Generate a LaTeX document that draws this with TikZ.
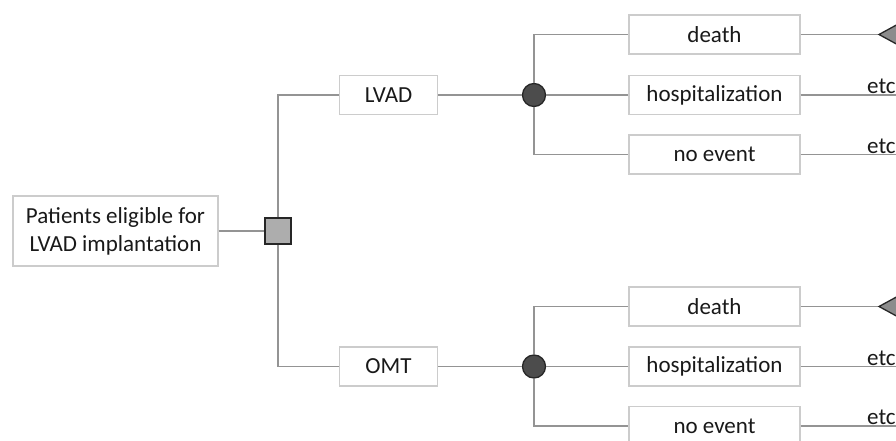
\documentclass[tikz,border=0pt]{standalone}
\usepackage{fontspec}
\setmainfont{Carlito}
\begin{document}
\begin{tikzpicture}[x=1pt,y=-1pt,
  every node/.style={font=\fontsize{23}{28}\selectfont, text=black!90},
  box/.style={draw=black!20, line width=1.3pt, fill=white, inner sep=0pt, align=center},
  optbox/.style={box, minimum width=98pt, minimum height=39pt},
  evbox/.style={box, minimum width=171pt, minimum height=39pt},
  rootbox/.style={box, minimum width=205pt, minimum height=70pt},
  wire/.style={draw=black!42, line width=1.5pt},
  decision/.style={draw=black!85, line width=1.5pt, fill=black!32, minimum size=26pt, inner sep=0pt},
  chance/.style={circle, draw=black!85, line width=1.3pt, fill=black!70, minimum size=23pt, inner sep=0pt},
  terminal/.style={draw=black!85, line width=1.3pt, fill=black!45},
  etclabel/.style={anchor=south west, inner sep=1pt}]
\useasboundingbox (0,0) rectangle (896,441);

% root and decision node
\node[rootbox] (root) at (115.5,231) {Patients eligible for\\LVAD implantation};
\node[decision] (dec) at (278,231) {};

% strategies
\node[optbox] (lvad) at (388.5,95) {LVAD};
\node[optbox] (omt) at (388.5,366.5) {OMT};

% chance nodes
\node[chance] (c1) at (534,95) {};
\node[chance] (c2) at (534,366.5) {};

% outcomes after LVAD
\node[evbox] (d1) at (714.5,34.5) {death};
\node[evbox] (h1) at (714.5,95) {hospitalization};
\node[evbox] (n1) at (714.5,154.5) {no event};

% outcomes after OMT
\node[evbox] (d2) at (714.5,306.5) {death};
\node[evbox] (h2) at (714.5,366.5) {hospitalization};
\node[evbox] (n2) at (714.5,426) {no event};

% terminal tips and open ends
\coordinate (t1) at (879,34.5);
\coordinate (t2) at (879,306.5);
\coordinate (eh1) at (896,95);
\coordinate (en1) at (896,154.5);
\coordinate (eh2) at (896,366.5);
\coordinate (en2) at (896,426);

% connectors
\draw[wire] (root.east) -- (dec.west);
\draw[wire] (dec.north) |- (lvad.west);
\draw[wire] (dec.south) |- (omt.west);
\draw[wire] (lvad.east) -- (c1.west);
\draw[wire] (omt.east) -- (c2.west);
\draw[wire] (c1.north) |- (d1.west);
\draw[wire] (c1.east) -- (h1.west);
\draw[wire] (c1.south) |- (n1.west);
\draw[wire] (c2.north) |- (d2.west);
\draw[wire] (c2.east) -- (h2.west);
\draw[wire] (c2.south) |- (n2.west);
\draw[wire] (d1.east) -- (t1);
\draw[wire] (d2.east) -- (t2);
\draw[wire] (h1.east) -- (eh1);
\draw[wire] (n1.east) -- (en1);
\draw[wire] (h2.east) -- (eh2);
\draw[wire] (n2.east) -- (en2);

% terminal triangles
\draw[terminal] (t1) -- ++(22,-12) -- ++(0,24) -- cycle;
\draw[terminal] (t2) -- ++(22,-12) -- ++(0,24) -- cycle;

% continuation labels
\node[etclabel] at (866,95) {etc};
\node[etclabel] at (866,154.5) {etc};
\node[etclabel] at (866,366.5) {etc};
\node[etclabel] at (866,426) {etc};
\end{tikzpicture}
\end{document}
